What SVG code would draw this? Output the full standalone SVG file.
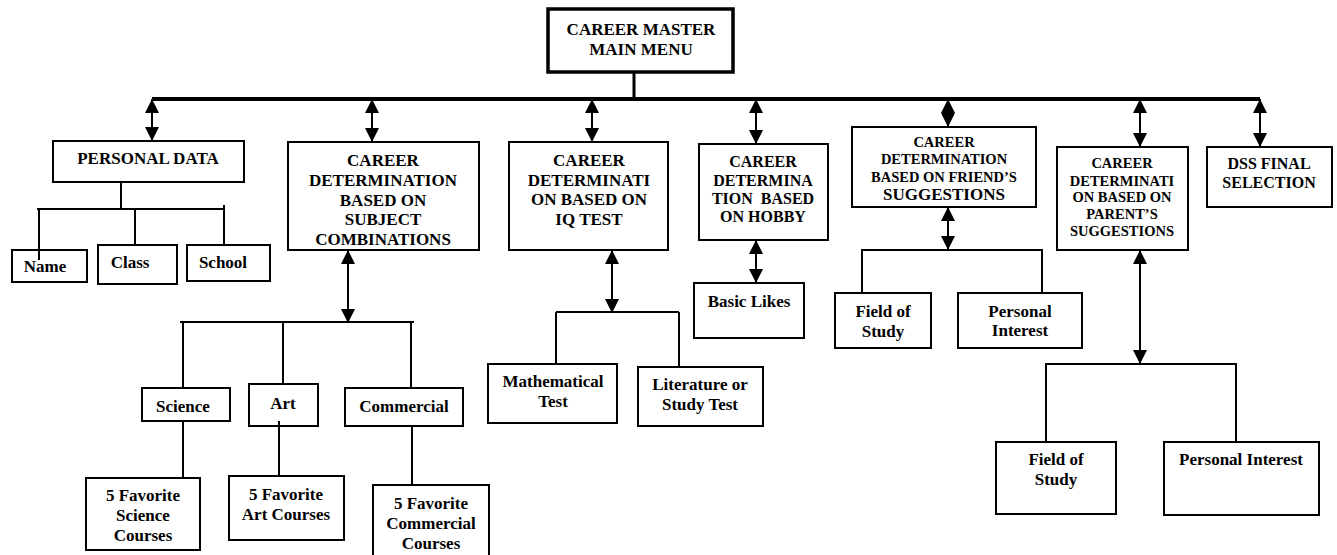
<svg xmlns="http://www.w3.org/2000/svg" width="1337" height="555" viewBox="0 0 1337 555">
<style>
.box{fill:#fff;stroke:#000;stroke-width:2}
.main{fill:#fff;stroke:#000;stroke-width:3.5}
text{font-family:"Liberation Serif","Times New Roman",serif;font-weight:bold;font-size:17px;text-anchor:middle;fill:#000}
.s{font-size:14.5px}
.m{font-size:16px}
.ln{stroke:#000;stroke-width:2;fill:none}
.bus{stroke:#000;stroke-width:4;fill:none}
.da{stroke:#000;stroke-width:2;fill:none;marker-start:url(#ah);marker-end:url(#ah)}
</style>
<defs>
<marker id="ah" markerUnits="userSpaceOnUse" markerWidth="14" markerHeight="14" refX="14" refY="7" orient="auto-start-reverse" viewBox="0 0 14 14">
<path d="M0,0 L14,7 L0,14 z" fill="#000"/>
</marker>
</defs>
<rect width="1337" height="555" fill="#fff"/>

<g id="main-menu">
<rect class="main" x="548" y="9" width="185" height="63"/>
<text x="641" y="35">CAREER MASTER</text>
<text x="641" y="55">MAIN MENU</text>
</g>

<g id="personal-data">
<rect class="box" x="53" y="141" width="191" height="41"/>
<text x="148" y="164">PERSONAL DATA</text>
</g>
<g id="name"><rect class="box" x="12" y="250" width="75" height="32"/><text x="45" y="272">Name</text></g>
<g id="class"><rect class="box" x="98" y="245" width="79" height="39"/><text x="130" y="268">Class</text></g>
<g id="school"><rect class="box" x="187" y="245" width="83" height="36"/><text x="223" y="268">School</text></g>

<g id="subject">
<rect class="box" x="288" y="142" width="191" height="108"/>
<text x="383" y="166">CAREER</text>
<text x="383" y="186">DETERMINATION</text>
<text x="383" y="206">BASED ON</text>
<text x="383" y="225">SUBJECT</text>
<text x="383" y="245">COMBINATIONS</text>
</g>
<g id="science"><rect class="box" x="142" y="388" width="88" height="33"/><text x="183" y="412">Science</text></g>
<g id="art"><rect class="box" x="249" y="384" width="69" height="42"/><text x="283" y="409">Art</text></g>
<g id="commercial"><rect class="box" x="345" y="388" width="118" height="38"/><text x="404" y="412">Commercial</text></g>
<g id="fav-science"><rect class="box" x="86" y="478" width="114" height="72"/>
<text x="143" y="501">5 Favorite</text><text x="143" y="521">Science</text><text x="143" y="541">Courses</text></g>
<g id="fav-art"><rect class="box" x="229" y="476" width="115" height="64"/>
<text x="286" y="500">5 Favorite</text><text x="286" y="520">Art Courses</text></g>
<g id="fav-commercial"><rect class="box" x="373" y="485" width="116" height="80"/>
<text x="431" y="509">5 Favorite</text><text x="431" y="529">Commercial</text><text x="431" y="549">Courses</text></g>

<g id="iq">
<rect class="box" x="509" y="142" width="159" height="108"/>
<text x="589" y="166">CAREER</text>
<text x="589" y="186">DETERMINATI</text>
<text x="589" y="205">ON BASED ON</text>
<text x="589" y="225">IQ TEST</text>
</g>
<g id="math"><rect class="box" x="488" y="364" width="129" height="59"/>
<text x="553" y="387">Mathematical</text><text x="553" y="407">Test</text></g>
<g id="literature"><rect class="box" x="638" y="367" width="125" height="59"/>
<text x="700" y="390">Literature or</text><text x="700" y="410">Study Test</text></g>

<g id="hobby">
<rect class="box" x="699" y="144" width="129" height="96"/>
<text class="m" x="763" y="167">CAREER</text>
<text class="m" x="763" y="186">DETERMINA</text>
<text class="m" x="763" y="204" xml:space="preserve">TION  BASED</text>
<text class="m" x="763" y="222">ON HOBBY</text>
</g>
<g id="basic-likes"><rect class="box" x="694" y="283" width="110" height="55"/>
<text x="749" y="307">Basic Likes</text></g>

<g id="friend">
<rect class="box" x="852" y="127" width="184" height="80"/>
<text class="s" x="944" y="147">CAREER</text>
<text class="s" x="944" y="164">DETERMINATION</text>
<text class="s" x="944" y="182">BASED ON FRIEND’S</text>
<text x="944" y="200">SUGGESTIONS</text>
</g>
<g id="friend-field"><rect class="box" x="835" y="293" width="96" height="55"/>
<text x="883" y="317">Field of</text><text x="883" y="337">Study</text></g>
<g id="friend-interest"><rect class="box" x="958" y="293" width="124" height="55"/>
<text x="1020" y="317">Personal</text><text x="1020" y="336">Interest</text></g>

<g id="parent">
<rect class="box" x="1057" y="147" width="131" height="103"/>
<text class="s" x="1122" y="168">CAREER</text>
<text class="s" x="1122" y="186">DETERMINATI</text>
<text class="s" x="1122" y="202">ON BASED ON</text>
<text class="s" x="1122" y="219">PARENT’S</text>
<text class="s" x="1122" y="236">SUGGESTIONS</text>
</g>
<g id="parent-field"><rect class="box" x="996" y="442" width="120" height="72"/>
<text x="1056" y="465">Field of</text><text x="1056" y="485">Study</text></g>
<g id="parent-interest"><rect class="box" x="1164" y="442" width="155" height="73"/>
<text x="1241" y="465">Personal Interest</text></g>

<g id="dss">
<rect class="box" x="1207" y="147" width="125" height="60"/>
<text class="m" x="1269" y="169">DSS FINAL</text>
<text class="m" x="1269" y="188">SELECTION</text>
</g>

<g id="connectors">
<line class="ln" x1="634" y1="72" x2="634" y2="99" style="stroke-width:3"/>
<line class="bus" x1="152" y1="99" x2="1260" y2="99"/>
<line class="da" x1="152" y1="99" x2="152" y2="141"/>
<line class="da" x1="372" y1="99" x2="372" y2="142"/>
<line class="da" x1="592" y1="99" x2="592" y2="142"/>
<line class="da" x1="756" y1="99" x2="756" y2="144"/>
<line class="da" x1="948" y1="99" x2="948" y2="127"/>
<line class="da" x1="1140" y1="99" x2="1140" y2="147"/>
<line class="da" x1="1260" y1="99" x2="1260" y2="147"/>

<polyline class="ln" points="121,182 121,209"/>
<line class="ln" x1="37" y1="209" x2="224" y2="209"/>
<line class="ln" x1="224" y1="205" x2="224" y2="245"/>
<line class="ln" x1="39" y1="209" x2="39" y2="260"/>
<line class="ln" x1="135" y1="209" x2="135" y2="245"/>

<line class="da" x1="348" y1="250" x2="348" y2="323"/>
<line class="ln" x1="180" y1="322" x2="414" y2="322"/>
<line class="ln" x1="183" y1="322" x2="183" y2="388"/>
<line class="ln" x1="283" y1="322" x2="283" y2="384"/>
<line class="ln" x1="411" y1="322" x2="411" y2="388"/>
<line class="ln" x1="183" y1="421" x2="183" y2="478"/>
<line class="ln" x1="279" y1="421" x2="279" y2="476"/>
<line class="ln" x1="412" y1="426" x2="412" y2="485"/>

<line class="da" x1="612" y1="250" x2="612" y2="313"/>
<line class="ln" x1="556" y1="312" x2="679" y2="312"/>
<line class="ln" x1="556" y1="312" x2="556" y2="364"/>
<line class="ln" x1="679" y1="312" x2="679" y2="367"/>

<line class="da" x1="756" y1="240" x2="756" y2="283"/>

<line class="da" x1="948" y1="207" x2="948" y2="250"/>
<polyline class="ln" points="862,293 862,250 1042,250 1042,293"/>

<line class="da" x1="1140" y1="250" x2="1140" y2="364"/>
<polyline class="ln" points="1046,442 1046,364 1236,364 1236,442"/>
</g>
</svg>
